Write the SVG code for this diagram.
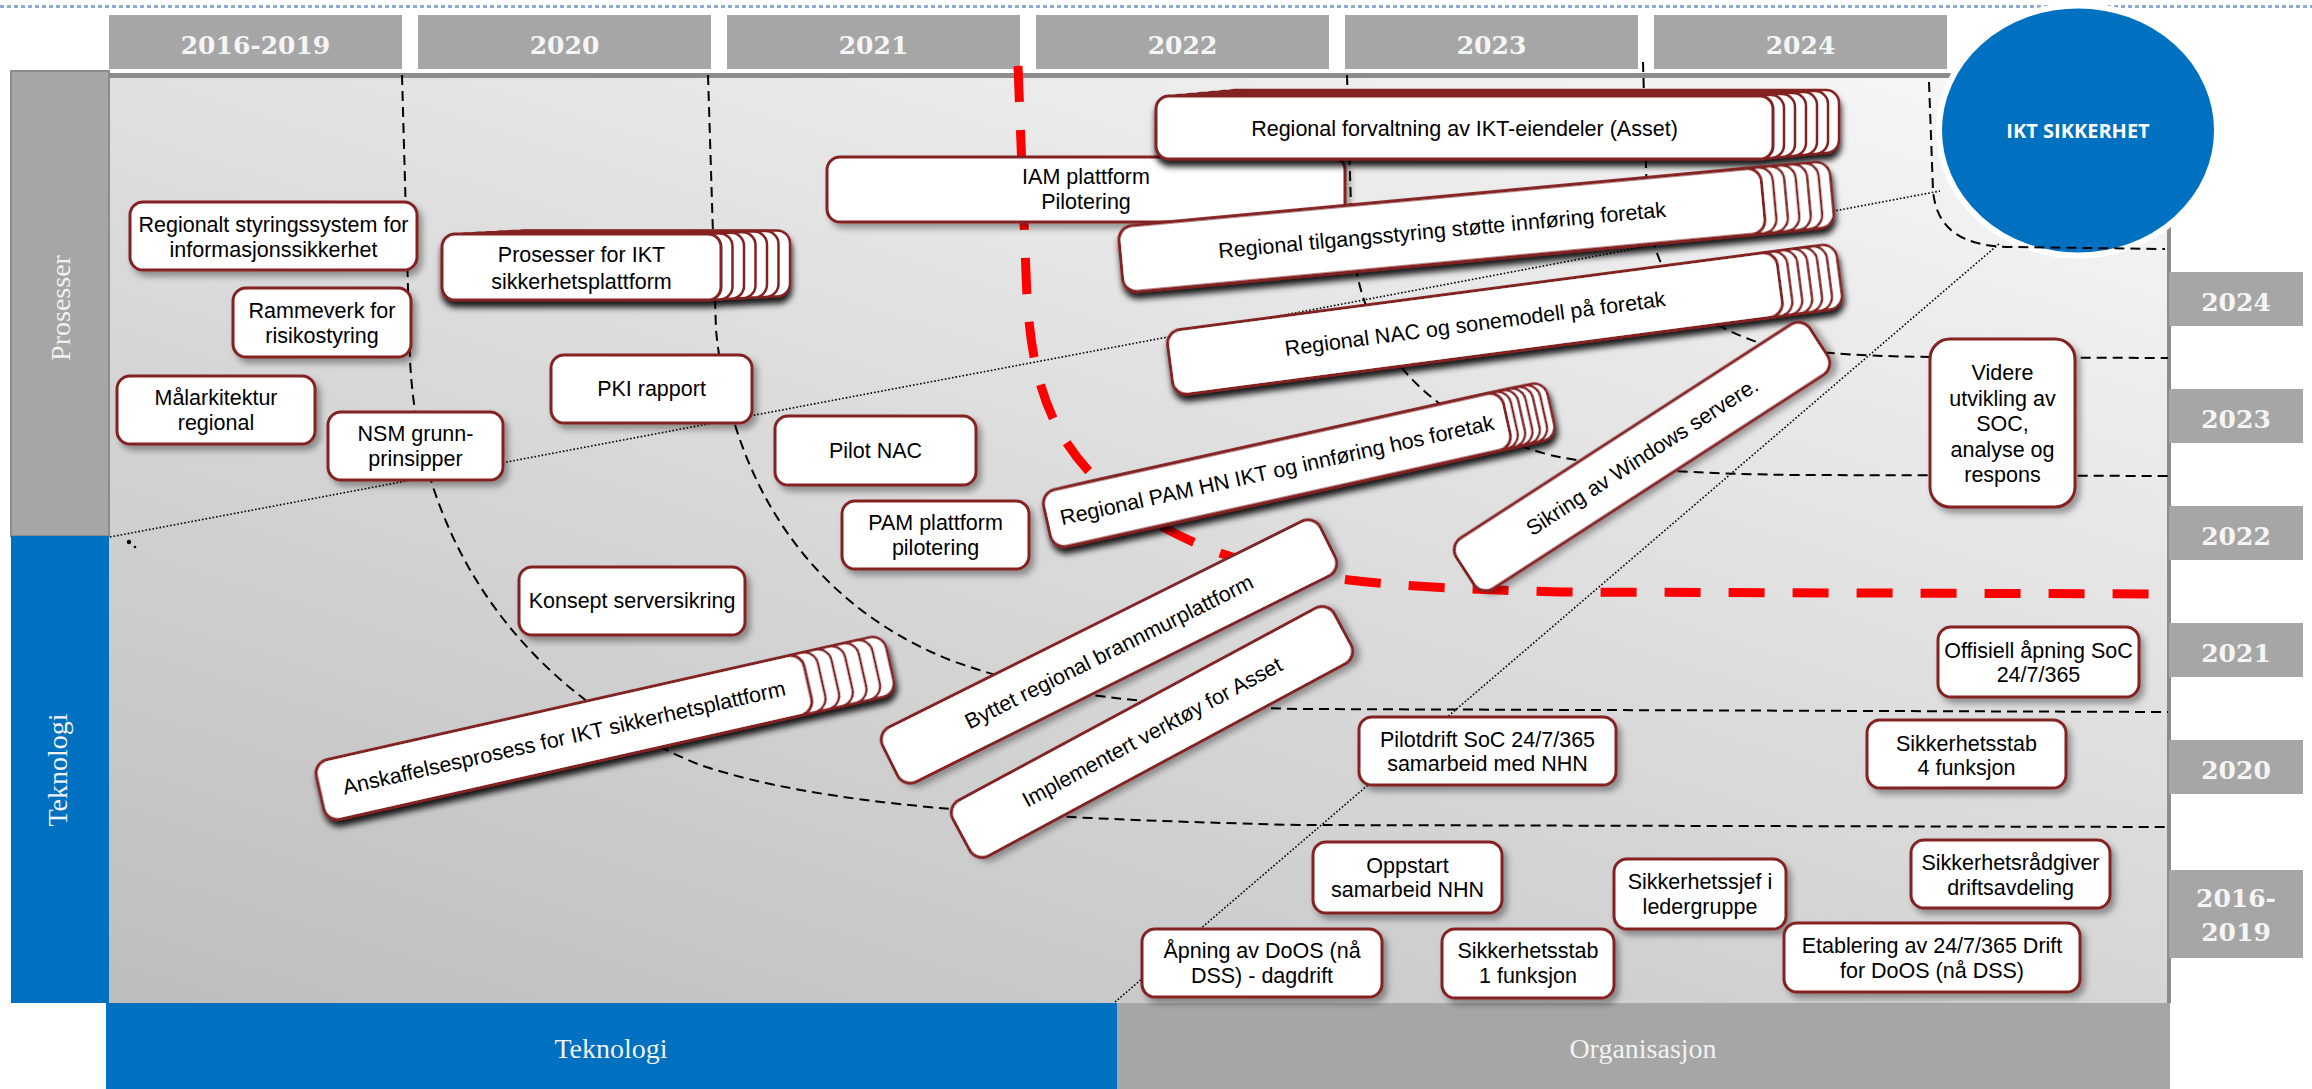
<svg xmlns="http://www.w3.org/2000/svg" width="2312" height="1089" viewBox="0 0 2312 1089">
<defs>
  <linearGradient id="panelGrad" gradientUnits="userSpaceOnUse" x1="109" y1="1003" x2="558" y2="-419">
    <stop offset="0" stop-color="#bdbdbd"/>
    <stop offset="1" stop-color="#f8f8f8"/>
  </linearGradient>
  <filter id="sh" x="-15%" y="-25%" width="140%" height="170%">
    <feDropShadow dx="4" dy="5" stdDeviation="3" flood-color="#000" flood-opacity="0.35"/>
  </filter>
  <filter id="shs" x="-10%" y="-30%" width="130%" height="190%">
    <feDropShadow dx="1" dy="6" stdDeviation="3" flood-color="#000" flood-opacity="0.9"/>
  </filter>
</defs>
<style>
  .box{fill:#fff;stroke:#842020;stroke-width:3}
  .card{fill:#fff;stroke:#842020;stroke-width:2.5}
  .t{font-family:"Liberation Sans",Arial,sans-serif;font-size:21.5px;fill:#000;text-anchor:middle}
  .yr{font-family:"DejaVu Serif",serif;font-weight:bold;font-size:25px;fill:#f5f5f5;text-anchor:middle}
  .side{font-family:"Liberation Serif",serif;font-size:28px;fill:#f2f2f2;text-anchor:middle}
  .dash{fill:none;stroke:#000;stroke-width:2;stroke-dasharray:10 6}
  .dot{fill:none;stroke:#000;stroke-width:1.6;stroke-dasharray:1.6 2}
  .red{fill:none;stroke:#ff0000;stroke-width:9;stroke-dasharray:36 28}
  .hdr{fill:#a6a6a6}
</style>

<!-- background frame -->
<g id="frame">
  <line x1="0" y1="6.5" x2="2312" y2="6.5" stroke="#8eaadb" stroke-width="3" stroke-dasharray="4 3"/>
  <rect x="109" y="75" width="2060" height="928" fill="url(#panelGrad)"/>
  <line x1="109" y1="75.5" x2="1960" y2="75.5" stroke="#8c8c8c" stroke-width="5"/>
  <line x1="2169" y1="75" x2="2169" y2="1003" stroke="#8c8c8c" stroke-width="4"/>
  <rect x="11" y="71" width="98" height="465" fill="#a6a6a6" stroke="#8c8c8c" stroke-width="2"/>
  <rect x="11" y="536" width="98" height="467" fill="#0070c0"/>
  <text class="side" transform="translate(70,308) rotate(-90)">Prosesser</text>
  <text class="side" transform="translate(67,770) rotate(-90)">Teknologi</text>
  <rect x="106" y="1003" width="1011" height="86" fill="#0070c0"/>
  <rect x="1117" y="1003" width="1053" height="86" fill="#a6a6a6"/>
  <text class="side" x="611" y="1058">Teknologi</text>
  <text class="side" x="1643" y="1058">Organisasjon</text>
</g>

<g id="headers">
  <rect class="hdr" x="109" y="15" width="293" height="54"/>
  <rect class="hdr" x="418" y="15" width="293" height="54"/>
  <rect class="hdr" x="727" y="15" width="293" height="54"/>
  <rect class="hdr" x="1036" y="15" width="293" height="54"/>
  <rect class="hdr" x="1345" y="15" width="293" height="54"/>
  <rect class="hdr" x="1654" y="15" width="293" height="54"/>
  <text class="yr" x="255.5" y="54">2016-2019</text>
  <text class="yr" x="564.5" y="54">2020</text>
  <text class="yr" x="873.5" y="54">2021</text>
  <text class="yr" x="1182.5" y="54">2022</text>
  <text class="yr" x="1491.5" y="54">2023</text>
  <text class="yr" x="1800.5" y="54">2024</text>
</g>

<g id="side-years">
  <rect class="hdr" x="2169" y="272" width="134" height="54"/>
  <rect class="hdr" x="2169" y="389" width="134" height="54"/>
  <rect class="hdr" x="2169" y="506" width="134" height="54"/>
  <rect class="hdr" x="2169" y="623" width="134" height="54"/>
  <rect class="hdr" x="2169" y="740" width="134" height="54"/>
  <rect class="hdr" x="2169" y="870" width="134" height="88"/>
  <text class="yr" x="2236" y="311">2024</text>
  <text class="yr" x="2236" y="428">2023</text>
  <text class="yr" x="2236" y="545">2022</text>
  <text class="yr" x="2236" y="662">2021</text>
  <text class="yr" x="2236" y="779">2020</text>
  <text class="yr" x="2236" y="907">2016-</text>
  <text class="yr" x="2236" y="941">2019</text>
</g>

<g id="ikt-sikkerhet">
  <ellipse cx="2078" cy="130.5" rx="139" ry="125" fill="#0070c0" stroke="#fff" stroke-width="6"/>
</g>

<g id="connectors">
  <path class="dash" d="M402,75 L410,360 C420,560 540,700 700,765 C820,805 1000,818 1300,825 L2168,827"/>
  <path class="dash" d="M708,75 L716,330 C730,470 800,600 950,660 C1050,697 1150,705 1300,709 L2168,712"/>
  <path class="dash" d="M1347,75 L1352,240 C1360,340 1420,420 1550,455 C1620,470 1700,474 1800,475 L2168,476"/>
  <path class="dash" d="M1643,62 L1647,200 C1652,280 1690,320 1760,343 C1800,352 1850,356 1930,357 L2168,358"/>
  <path class="dash" d="M1929,82 L1933,190 C1936,228 1960,246 2010,247 L2165,249"/>
  <path class="red" d="M1018,66 L1026,273 C1030,390 1050,480 1200,545 C1280,580 1400,588 1560,592 L2168,594"/>
  <path class="dot" d="M110,537 L1940,191"/>
  <path class="dot" d="M1115,1002 L2000,243"/>
  <circle cx="129" cy="542" r="2.2" fill="#000"/>
  <circle cx="135" cy="547" r="1.3" fill="#000"/>
</g>

<g id="ikt-label">
  <text x="2078" y="138" font-family="'Open Sans',sans-serif" font-weight="bold" font-size="20" fill="#fff" text-anchor="middle">IKT SIKKERHET</text>
</g>

<!-- nodes -->
<g id="n-regionalt">
  <rect class="box" filter="url(#sh)" x="130" y="202" width="287" height="68" rx="13"/>
  <text class="t"><tspan x="273.5" y="232">Regionalt styringssystem for</tspan><tspan x="273.5" y="257">informasjonssikkerhet</tspan></text>
</g>
<g id="n-rammeverk">
  <rect class="box" filter="url(#sh)" x="233" y="288" width="178" height="69" rx="13"/>
  <text class="t"><tspan x="322" y="318">Rammeverk for</tspan><tspan x="322" y="343">risikostyring</tspan></text>
</g>
<g id="n-malarkitektur">
  <rect class="box" filter="url(#sh)" x="117" y="376" width="198" height="68" rx="13"/>
  <text class="t"><tspan x="216" y="405">Målarkitektur</tspan><tspan x="216" y="430">regional</tspan></text>
</g>
<g id="n-nsm">
  <rect class="box" filter="url(#sh)" x="328" y="412" width="175" height="68" rx="13"/>
  <text class="t"><tspan x="415.5" y="441">NSM grunn-</tspan><tspan x="415.5" y="466">prinsipper</tspan></text>
</g>
<g id="n-prosesser-ikt">
  <g filter="url(#shs)">
    <rect class="card" x="511" y="230.4" width="279" height="66" rx="13"/>
    <rect class="card" x="499.5" y="231" width="279" height="66" rx="13"/>
    <rect class="card" x="488" y="231.6" width="279" height="66" rx="13"/>
    <rect class="card" x="476.5" y="232.2" width="279" height="66" rx="13"/>
    <rect class="card" x="465" y="232.8" width="279" height="66" rx="13"/>
    <rect class="card" x="453.5" y="233.4" width="279" height="66" rx="13"/>
    <rect class="box" x="442" y="234" width="279" height="66" rx="13"/>
  </g>
  <text class="t"><tspan x="581.5" y="262">Prosesser for IKT</tspan><tspan x="581.5" y="289">sikkerhetsplattform</tspan></text>
</g>
<g id="n-pki">
  <rect class="box" filter="url(#sh)" x="551" y="355" width="201" height="68" rx="13"/>
  <text class="t" x="651.5" y="396">PKI rapport</text>
</g>
<g id="n-pilot-nac">
  <rect class="box" filter="url(#sh)" x="775" y="416" width="201" height="69" rx="13"/>
  <text class="t" x="875.5" y="458">Pilot NAC</text>
</g>
<g id="n-pam-plattform">
  <rect class="box" filter="url(#sh)" x="842" y="501" width="187" height="68" rx="13"/>
  <text class="t"><tspan x="935.5" y="530">PAM plattform</tspan><tspan x="935.5" y="555">pilotering</tspan></text>
</g>
<g id="n-konsept">
  <rect class="box" filter="url(#sh)" x="519" y="567" width="226" height="68" rx="13"/>
  <text class="t" x="632" y="608">Konsept serversikring</text>
</g>
<g id="n-iam">
  <rect class="box" filter="url(#sh)" x="827" y="157" width="518" height="65" rx="13"/>
  <text class="t"><tspan x="1086" y="184">IAM plattform</tspan><tspan x="1086" y="209">Pilotering</tspan></text>
</g>
<g id="n-forvaltning">
  <g filter="url(#shs)">
    <rect class="card" x="1222" y="90" width="617" height="63" rx="13"/>
    <rect class="card" x="1211" y="91" width="617" height="63" rx="13"/>
    <rect class="card" x="1200" y="92" width="617" height="63" rx="13"/>
    <rect class="card" x="1189" y="93" width="617" height="63" rx="13"/>
    <rect class="card" x="1178" y="94" width="617" height="63" rx="13"/>
    <rect class="card" x="1167" y="95" width="617" height="63" rx="13"/>
    <rect class="box" x="1156" y="96" width="617" height="63" rx="13"/>
  </g>
  <text class="t" x="1464.5" y="136">Regional forvaltning av IKT-eiendeler (Asset)</text>
</g>
<g id="n-tilgang" transform="translate(1442,230) rotate(-5.3)">
  <g filter="url(#shs)">
    <rect class="card" x="-253.5" y="-33" width="645" height="66" rx="14"/>
    <rect class="card" x="-265" y="-33" width="645" height="66" rx="14"/>
    <rect class="card" x="-276.5" y="-33" width="645" height="66" rx="14"/>
    <rect class="card" x="-288" y="-33" width="645" height="66" rx="14"/>
    <rect class="card" x="-299.5" y="-33" width="645" height="66" rx="14"/>
    <rect class="card" x="-311" y="-33" width="645" height="66" rx="14"/>
    <rect class="box" x="-322.5" y="-33" width="645" height="66" rx="14"/>
  </g>
  <text class="t" x="0" y="7.5">Regional tilgangsstyring støtte innføring foretak</text>
</g>
<g id="n-nac" transform="translate(1475,323.5) rotate(-7.5)">
  <g filter="url(#shs)">
    <rect class="card" x="-247.5" y="-32.5" width="615" height="65" rx="14"/>
    <rect class="card" x="-257.5" y="-32.5" width="615" height="65" rx="14"/>
    <rect class="card" x="-267.5" y="-32.5" width="615" height="65" rx="14"/>
    <rect class="card" x="-277.5" y="-32.5" width="615" height="65" rx="14"/>
    <rect class="card" x="-287.5" y="-32.5" width="615" height="65" rx="14"/>
    <rect class="card" x="-297.5" y="-32.5" width="615" height="65" rx="14"/>
    <rect class="box" x="-307.5" y="-32.5" width="615" height="65" rx="14"/>
  </g>
  <text class="t" x="0" y="7.5">Regional NAC og sonemodell på foretak</text>
</g>
<g id="n-pam-hn" transform="translate(1277,470) rotate(-12.5)">
  <g filter="url(#shs)">
    <rect class="card" x="-190.5" y="-29" width="471" height="58" rx="14"/>
    <rect class="card" x="-198" y="-29" width="471" height="58" rx="14"/>
    <rect class="card" x="-205.5" y="-29" width="471" height="58" rx="14"/>
    <rect class="card" x="-213" y="-29" width="471" height="58" rx="14"/>
    <rect class="card" x="-220.5" y="-29" width="471" height="58" rx="14"/>
    <rect class="card" x="-228" y="-29" width="471" height="58" rx="14"/>
    <rect class="box" x="-235.5" y="-29" width="471" height="58" rx="14"/>
  </g>
  <text class="t" x="0" y="7.5">Regional PAM HN IKT og innføring hos foretak</text>
</g>
<g id="n-anskaffelse" transform="translate(564,737.5) rotate(-12.7)">
  <g filter="url(#shs)">
    <rect class="card" x="-166" y="-30.5" width="500" height="61" rx="14"/>
    <rect class="card" x="-180" y="-30.5" width="500" height="61" rx="14"/>
    <rect class="card" x="-194" y="-30.5" width="500" height="61" rx="14"/>
    <rect class="card" x="-208" y="-30.5" width="500" height="61" rx="14"/>
    <rect class="card" x="-222" y="-30.5" width="500" height="61" rx="14"/>
    <rect class="card" x="-236" y="-30.5" width="500" height="61" rx="14"/>
    <rect class="box" x="-250" y="-30.5" width="500" height="61" rx="14"/>
  </g>
  <text class="t" x="0" y="7.5">Anskaffelsesprosess for IKT sikkerhetsplattform</text>
</g>
<g id="n-sikring" transform="translate(1642,456.5) rotate(-32.9)">
  <rect class="box" filter="url(#sh)" x="-210.5" y="-30" width="421" height="60" rx="14"/>
  <text class="t" x="0" y="7.5">Sikring av Windows servere.</text>
</g>
<g id="n-byttet" transform="translate(1109,651.5) rotate(-26.5)">
  <rect class="box" filter="url(#sh)" x="-244.5" y="-30.5" width="489" height="61" rx="14"/>
  <text class="t" x="0" y="7.5">Byttet regional brannmurplattform</text>
</g>
<g id="n-implementert" transform="translate(1152,732) rotate(-28.3)">
  <rect class="box" filter="url(#sh)" x="-216.5" y="-31.5" width="433" height="63" rx="14"/>
  <text class="t" x="0" y="7.5">Implementert verktøy for Asset</text>
</g>
<g id="n-videre">
  <rect class="box" filter="url(#sh)" x="1930" y="339" width="145" height="168" rx="20"/>
  <text class="t"><tspan x="2002.5" y="380">Videre</tspan><tspan x="2002.5" y="405.5">utvikling av</tspan><tspan x="2002.5" y="431">SOC,</tspan><tspan x="2002.5" y="456.5">analyse og</tspan><tspan x="2002.5" y="482">respons</tspan></text>
</g>
<g id="n-offisiell">
  <rect class="box" filter="url(#sh)" x="1938" y="627" width="201" height="70" rx="13"/>
  <text class="t"><tspan x="2038.5" y="658">Offisiell åpning SoC</tspan><tspan x="2038.5" y="682">24/7/365</tspan></text>
</g>
<g id="n-stab4">
  <rect class="box" filter="url(#sh)" x="1867" y="720" width="199" height="68" rx="13"/>
  <text class="t"><tspan x="1966.5" y="751">Sikkerhetsstab</tspan><tspan x="1966.5" y="775">4 funksjon</tspan></text>
</g>
<g id="n-pilotdrift">
  <rect class="box" filter="url(#sh)" x="1359" y="717" width="257" height="68" rx="13"/>
  <text class="t"><tspan x="1487.5" y="747">Pilotdrift SoC 24/7/365</tspan><tspan x="1487.5" y="771">samarbeid med NHN</tspan></text>
</g>
<g id="n-oppstart">
  <rect class="box" filter="url(#sh)" x="1313" y="842" width="189" height="71" rx="13"/>
  <text class="t"><tspan x="1407.5" y="873">Oppstart</tspan><tspan x="1407.5" y="897">samarbeid NHN</tspan></text>
</g>
<g id="n-sjef">
  <rect class="box" filter="url(#sh)" x="1614" y="859" width="172" height="70" rx="13"/>
  <text class="t"><tspan x="1700" y="889">Sikkerhetssjef i</tspan><tspan x="1700" y="914">ledergruppe</tspan></text>
</g>
<g id="n-radgiver">
  <rect class="box" filter="url(#sh)" x="1911" y="840" width="199" height="68" rx="13"/>
  <text class="t"><tspan x="2010.5" y="870">Sikkerhetsrådgiver</tspan><tspan x="2010.5" y="895">driftsavdeling</tspan></text>
</g>
<g id="n-apning">
  <rect class="box" filter="url(#sh)" x="1142" y="929" width="240" height="68" rx="13"/>
  <text class="t"><tspan x="1262" y="958">Åpning av DoOS (nå</tspan><tspan x="1262" y="983">DSS) - dagdrift</tspan></text>
</g>
<g id="n-stab1">
  <rect class="box" filter="url(#sh)" x="1442" y="929" width="172" height="69" rx="13"/>
  <text class="t"><tspan x="1528" y="958">Sikkerhetsstab</tspan><tspan x="1528" y="983">1 funksjon</tspan></text>
</g>
<g id="n-etablering">
  <rect class="box" filter="url(#sh)" x="1784" y="923" width="296" height="69" rx="13"/>
  <text class="t"><tspan x="1932" y="953">Etablering av 24/7/365 Drift</tspan><tspan x="1932" y="978">for DoOS (nå DSS)</tspan></text>
</g>
</svg>
